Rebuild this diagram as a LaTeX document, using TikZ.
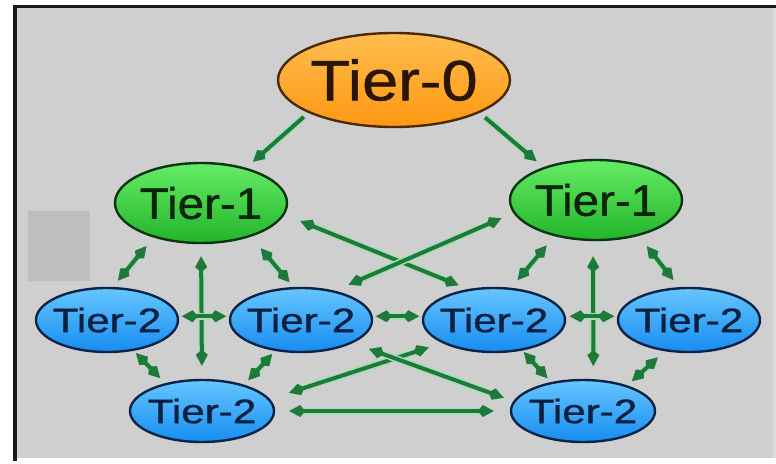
\documentclass[tikz,border=0pt]{standalone}
\usepackage{fontspec}
\setmainfont{Liberation Sans}
\newfontfamily\tierfont[FakeBold=0.8]{Liberation Sans}
\usetikzlibrary{shapes.geometric,arrows.meta}

\definecolor{panel}{HTML}{CFCFCF}
\definecolor{paneledge}{HTML}{DCDCDC}
\definecolor{patch}{HTML}{BEBEBE}
\definecolor{frameline}{HTML}{1A1A1A}
\definecolor{linkgreen}{HTML}{1D7A3B}
\definecolor{linkglow}{HTML}{A8DDB5}
\definecolor{orangetop}{HTML}{FFBE50}
\definecolor{orangebot}{HTML}{FF9812}
\definecolor{orangeline}{HTML}{4A2A05}
\definecolor{orangetext}{HTML}{2A1600}
\definecolor{greentop}{HTML}{66EC66}
\definecolor{greenbot}{HTML}{22B42A}
\definecolor{greenline}{HTML}{0B3510}
\definecolor{greentext}{HTML}{0C240C}
\definecolor{bluetop}{HTML}{66C6FF}
\definecolor{bluebot}{HTML}{168CF0}
\definecolor{blueline}{HTML}{0A2448}
\definecolor{bluetext}{HTML}{0B2040}

% label centred on the node, not affecting the ellipse size
\newcommand\tierlabel[3]{%
  \makebox[0pt]{\smash{\tierfont\fontsize{#1}{#1}\selectfont
    \raisebox{-.358em}{\scalebox{#2}[1]{#3}}}}}

\tikzset{
  tierzero/.style={ellipse, draw=orangeline, line width=2.4pt,
    top color=orangetop, bottom color=orangebot, text=orangetext,
    minimum width=232pt, minimum height=94pt, inner sep=0pt},
  tierone/.style={ellipse, draw=greenline, line width=2.4pt,
    top color=greentop, bottom color=greenbot, text=greentext,
    minimum width=172pt, minimum height=80pt, inner sep=0pt},
  tiertwo/.style={ellipse, draw=blueline, line width=2.4pt,
    top color=bluetop, bottom color=bluebot, text=bluetext,
    minimum width=142pt, minimum height=64pt, inner sep=0pt},
  tiertwolow/.style={tiertwo, minimum width=144pt, minimum height=62pt},
  link/.style={draw=linkgreen, line width=4pt,
    preaction={draw=linkglow, line width=7pt}},
  >={Kite[length=16pt,width=12pt,inset=5pt]}
}

\begin{document}
\begin{tikzpicture}[x=1pt,y=-1pt]
  \useasboundingbox (0,0) rectangle (776,463);
  % panel and frame
  \fill[white] (0,0) rectangle (776,463);
  \fill[panel] (13,5) rectangle (773,458);
  \fill[paneledge] (773,8) rectangle (776,458);
  \fill[frameline] (13,5) rectangle (776,8);
  \fill[frameline] (13,5) rectangle (17,461);
  \fill[patch] (28,211) rectangle (90,281);

  % nodes
  \node[tierzero] (t0) at (394,80) {\tierlabel{57}{1.14}{Tier-0}};
  \node[tierone] (l1) at (201,203) {\tierlabel{44}{1.08}{Tier-1}};
  \node[tierone] (r1) at (596,200) {\tierlabel{44}{1.08}{Tier-1}};
  \node[tiertwo] (a) at (107,320) {\tierlabel{34}{1.24}{Tier-2}};
  \node[tiertwo] (b) at (301,320) {\tierlabel{34}{1.24}{Tier-2}};
  \node[tiertwo] (c) at (494,320) {\tierlabel{34}{1.24}{Tier-2}};
  \node[tiertwo] (d) at (689,320) {\tierlabel{34}{1.24}{Tier-2}};
  \node[tiertwolow] (bl) at (202,411) {\tierlabel{34}{1.24}{Tier-2}};
  \node[tiertwolow] (br) at (583,411) {\tierlabel{34}{1.24}{Tier-2}};

  % top level
  \draw[link,->,shorten <=6pt,shorten >=9pt] (t0.201) -- (l1.38);
  \draw[link,->,shorten <=7pt,shorten >=9pt] (t0.339) -- (r1.148);

  % left branch
  \draw[link,<->,shorten <=11pt,shorten >=8pt] (l1.216) -- (a.80);
  \draw[link,<->,shorten <=12pt,shorten >=13pt] (l1.south) -- (bl.north);
  \draw[link,<->,shorten <=15pt,shorten >=6pt] (l1.326) -- (b.103);
  \draw[link,<->,shorten <=3pt,shorten >=3pt] (a.3) -- (b.177);
  \draw[link,<->,shorten <=3pt,shorten >=7pt] (a.311) -- (bl.143);
  \draw[link,<->,shorten <=4pt,shorten >=6pt] (b.230) -- (bl.32);

  % right branch
  \draw[link,<->,shorten <=12pt,shorten >=10pt] (r1.221) -- (c.62);
  \draw[link,<->,shorten <=15pt,shorten >=13pt] (r1.266) -- (br.72);
  \draw[link,<->,shorten <=13pt,shorten >=9pt] (r1.320) -- (d.107);
  \draw[link,<->,shorten <=4pt,shorten >=3pt] (c.3) -- (d.177);
  \draw[link,<->,shorten <=2pt,shorten >=5pt] (c.313) -- (br.138);
  \draw[link,<->,shorten <=9pt,shorten >=6pt] (d.232) -- (br.30);

  % links across the two branches
  \draw[link,<->,shorten <=17pt,shorten >=10pt] (l1.352) -- (c.130);
  \draw[link,<->,shorten <=13pt,shorten >=15pt] (r1.189) -- (b.41);
  \draw[link,<->,shorten <=3pt,shorten >=3pt] (b.3) -- (c.177);
  \draw[link,<->,shorten <=20pt,shorten >=14pt] (bl.10) -- (c.204);
  \draw[link,<->,shorten <=17pt,shorten >=10pt] (b.336) -- (br.172);
  \draw[link,<->,shorten <=14pt,shorten >=16pt] (bl.east) -- (br.west);
\end{tikzpicture}
\end{document}
